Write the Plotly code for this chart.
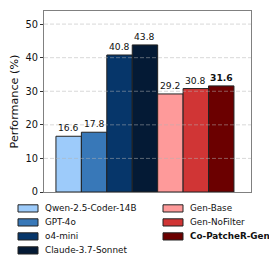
import plotly.graph_objects as go

models = ["Qwen-2.5-Coder-14B", "GPT-4o", "o4-mini", "Claude-3.7-Sonnet",
          "Gen-Base", "Gen-NoFilter", "Co-PatcheR-Gen"]
values = [16.6, 17.8, 40.8, 43.8, 29.2, 30.8, 31.6]
colors = ["#9dcbfa", "#3878b8", "#06366a", "#041a35",
          "#fe9a9a", "#d03535", "#6b0000"]
legend_names = ["Qwen-2.5-Coder-14B", "GPT-4o", "o4-mini", "Claude-3.7-Sonnet",
                "Gen-Base", "Gen-NoFilter", "<b>Co-PatcheR-Gen</b>"]
bar_labels = ["16.6", "17.8", "40.8", "43.8", "29.2", "30.8", "<b>31.6</b>"]
yticks = [0, 10, 20, 30, 40, 50]

font = "DejaVu Sans"
W, H = 277, 256
ML, MR, MT, MB = 36, 34, 3, 72
PW, PH = W - ML - MR, H - MT - MB


def px2paper(px, py):
    return (px - ML) / PW, (H - MB - py) / PH


fig = go.Figure()
annots, shapes = [], []
for i, (m, v, c) in enumerate(zip(models, values, colors)):
    fig.add_trace(go.Bar(
        x=[i], y=[v], width=1, name=m, showlegend=False,
        marker=dict(color=c, line=dict(color="#222222", width=1)),
    ))
    annots.append(dict(x=i, y=v, xref="x", yref="y", text=bar_labels[i],
                       showarrow=False, xanchor="center", yanchor="bottom",
                       yshift=1,
                       font=dict(family=font, size=9.2, color="#111111")))

# dashed grid drawn above the bars
for t in yticks[1:]:
    shapes.append(dict(type="line", xref="paper", yref="y", x0=0, x1=1,
                       y0=t, y1=t, layer="above",
                       line=dict(color="rgba(180,180,180,0.5)", width=1,
                                 dash="4px,2px")))

# manual two-column legend (swatch shapes + text annotations)
for i, (name, c) in enumerate(zip(legend_names, colors)):
    col, row = (0, i) if i < 4 else (1, i - 4)
    sx = 10 if col == 0 else 155
    cy = 200.4 + row * 14.0
    x0, y0 = px2paper(sx, cy + 3.6)
    x1, y1 = px2paper(sx + 20, cy - 3.6)
    shapes.append(dict(type="rect", xref="paper", yref="paper",
                       x0=x0, y0=y0, x1=x1, y1=y1, fillcolor=c,
                       line=dict(color="#222222", width=1)))
    tx, ty = px2paper(sx + 25, cy)
    annots.append(dict(xref="paper", yref="paper", x=tx, y=ty, text=name,
                       showarrow=False, xanchor="left", yanchor="middle",
                       font=dict(family=font, size=8.8, color="#111111")))

fig.update_layout(
    width=W, height=H,
    margin=dict(l=ML, r=MR, t=MT, b=MB),
    plot_bgcolor="white", paper_bgcolor="white",
    barmode="overlay", showlegend=False,
    font=dict(family=font, size=10, color="#111111"),
    shapes=shapes, annotations=annots,
    xaxis=dict(range=[-0.97, 7.17], showticklabels=False, ticks="",
               showgrid=False, zeroline=False, showline=True,
               linecolor="#808080", linewidth=1, mirror=True),
    yaxis=dict(range=[0, 53.9], tickvals=yticks, ticks="outside",
               ticklen=3, tickcolor="#333333",
               tickfont=dict(size=9.8),
               title=dict(text="Performance (%)", font=dict(size=11.2), standoff=7),
               showgrid=False, zeroline=False, showline=True,
               linecolor="#808080", linewidth=1, mirror=True),
)
fig.write_html("out.html")
